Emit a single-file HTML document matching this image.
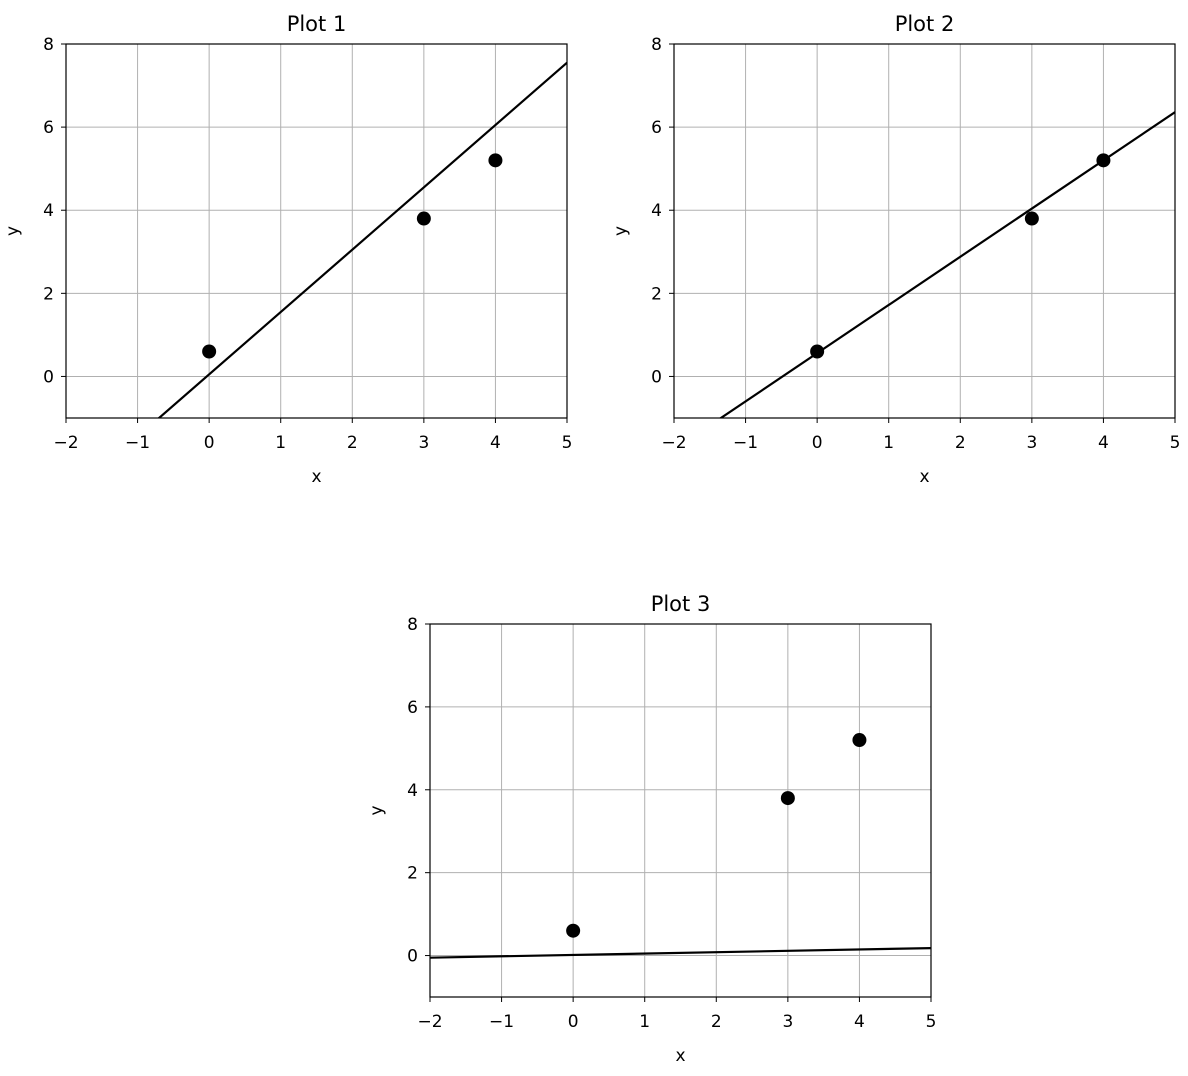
<!DOCTYPE html>
<html><head><meta charset="utf-8"><style>
body{margin:0;background:#fff;}
svg text{font-family:"DejaVu Sans","Liberation Sans",sans-serif;fill:#000;}
</style></head><body>
<svg id="fig" width="1188" height="1071"></svg>
<script>
const pointsX=[0,3,4];
const pointsY=[0.6,3.8,5.2];
const titles=["Plot 1","Plot 2","Plot 3"];
const slopes=[1.5,1.16,0.033];
const intercepts=[0.05,0.56,0.015];
const xTicks=[-2,-1,0,1,2,3,4,5];
const yTicks=[0,2,4,6,8];
const xMin=-2,xMax=5,yMin=-1,yMax=8;
const NS="http://www.w3.org/2000/svg";
const svg=document.getElementById('fig');
const panels=[{l:66,r:567,t:44,b:418},{l:674,r:1175,t:44,b:418},{l:430,r:931,t:624,b:997}];
function mk(tag,attrs,parent){const e=document.createElementNS(NS,tag);for(const k in attrs)e.setAttribute(k,attrs[k]);(parent||svg).appendChild(e);return e;}
panels.forEach((p,i)=>{
  const g=mk('g',{});
  
  
  const sx=v=>p.l+(v-xMin)/(xMax-xMin)*(p.r-p.l);
  const sy=v=>p.b-(v-yMin)/(yMax-yMin)*(p.b-p.t);
  xTicks.forEach(v=>{
    const gl=mk('line',{x1:sx(v),x2:sx(v),y1:p.t,y2:p.b,stroke:'#b0b0b0','stroke-width':1},g);
    
    
    mk('line',{x1:sx(v),x2:sx(v),y1:p.b,y2:p.b+5,stroke:'#000','stroke-width':1},g);
    const t=mk('text',{x:sx(v),y:p.b+30,'text-anchor':'middle','font-size':17},g);
    t.textContent=v<0?'\u2212'+Math.abs(v):v;
    
    
  });
  yTicks.forEach(v=>{
    const gl=mk('line',{x1:p.l,x2:p.r,y1:sy(v),y2:sy(v),stroke:'#b0b0b0','stroke-width':1},g);
    
    
    mk('line',{x1:p.l-5,x2:p.l,y1:sy(v),y2:sy(v),stroke:'#000','stroke-width':1},g);
    const t=mk('text',{x:p.l-12,y:sy(v)+6,'text-anchor':'end','font-size':17},g);
    t.textContent=v;
    
    
  });
  const cp='clip'+i;
  const cl=mk('clipPath',{id:cp},g);mk('rect',{x:p.l,y:p.t,width:p.r-p.l,height:p.b-p.t},cl);
  const ln=mk('line',{x1:sx(xMin),y1:sy(slopes[i]*xMin+intercepts[i]),x2:sx(xMax),y2:sy(slopes[i]*xMax+intercepts[i]),stroke:'#000','stroke-width':2.2,'clip-path':'url(#'+cp+')'},g);
  
  
  pointsX.forEach((x,j)=>{
    const c=mk('circle',{cx:sx(x),cy:sy(pointsY[j]),r:7,fill:'#000'},g);
    
    
  });
  const fr=mk('rect',{x:p.l,y:p.t,width:p.r-p.l,height:p.b-p.t,fill:'none',stroke:'#000','stroke-width':1.2},g);
  
  
  const ti=mk('text',{x:(p.l+p.r)/2,y:p.t-13,'text-anchor':'middle','font-size':21},g);
  ti.textContent=titles[i];
  
  
  const xl=mk('text',{x:(p.l+p.r)/2,y:p.b+64,'text-anchor':'middle','font-size':17},g);
  xl.textContent='x';
  
  
  const yx=p.l-48,yy=(p.t+p.b)/2;
  const yl=mk('text',{x:yx,y:yy,'text-anchor':'middle','font-size':17,transform:'rotate(-90 '+yx+' '+yy+')'},g);
  yl.textContent='y';
  
  
});
</script>
</body></html>
